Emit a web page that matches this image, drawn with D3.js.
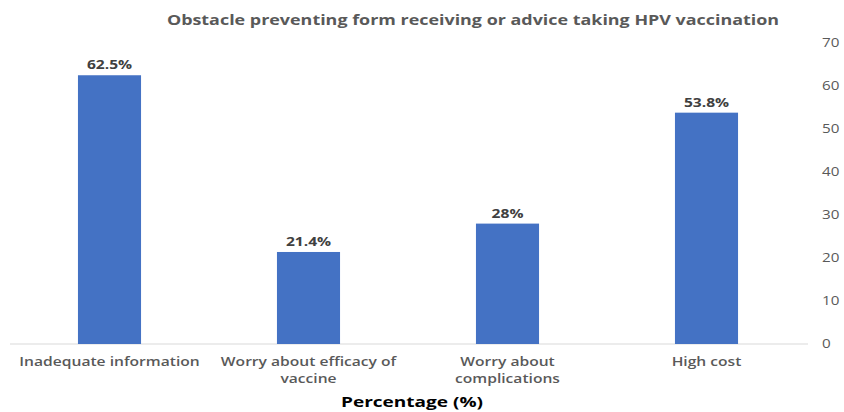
<!DOCTYPE html>
<html><head><meta charset="utf-8">
<script src="https://cdn.jsdelivr.net/npm/d3@7"></script>
<style>body{margin:0;background:#fff}svg{display:block}</style>
</head><body>
<svg id="c" width="844" height="412"></svg>
<script>
const categories = [["Inadequate information"], ["Worry about efficacy of", "vaccine"], ["Worry about", "complications"], ["High cost"]];
const values = [62.5, 21.4, 28, 53.8];
const valueLabels = ["62.5%", "21.4%", "28%", "53.8%"];
const yTicks = [0, 10, 20, 30, 40, 50, 60, 70];
const title = "Obstacle preventing form receiving or advice taking HPV vaccination";
const xTitle = "Percentage (%)";

const svg = d3.select("#c");
const font = "'Open Sans', sans-serif";
const SX = 1.27;
const x = d3.scaleBand().domain(d3.range(values.length)).range([10, 806]).paddingInner(0.683).paddingOuter(0.3415);
const y = d3.scaleLinear().domain([0, 70]).range([344, 43]);

function stext(px, py, sx) {
  return svg.append("g").attr("transform", `translate(${px},${py}) scale(${sx},1)`).append("text");
}

svg.append("line").attr("x1", 10).attr("x2", 808).attr("y1", y(0)).attr("y2", y(0))
  .attr("stroke", "#d9d9d9").attr("stroke-width", 1);

const yAxis = d3.axisRight(y).tickValues(yTicks).tickSize(0).tickPadding(0);
const ya = svg.append("g").attr("transform", "translate(822,0)").call(yAxis);
ya.select(".domain").remove();
ya.selectAll(".tick text").attr("font-family", font).attr("font-size", 12).attr("fill", "#595959")
  .attr("transform", `scale(${SX},1)`);

svg.selectAll("rect.bar").data(values).enter().append("rect").attr("class", "bar")
  .attr("x", (d, i) => x(i)).attr("width", x.bandwidth())
  .attr("y", d => y(d)).attr("height", d => y(0) - y(d)).attr("fill", "#4472c4");

values.forEach((d, i) => {
  stext(x(i) + x.bandwidth() / 2, y(d) - 6, 1.3)
    .attr("text-anchor", "middle").attr("font-family", font).attr("font-weight", "bold")
    .attr("font-size", 12).attr("fill", "#404040").text(valueLabels[i]);
});

categories.forEach((d, i) => {
  const t = stext(x(i) + x.bandwidth() / 2, 366, 1.25)
    .attr("text-anchor", "middle").attr("font-family", font).attr("font-weight", 600)
    .attr("font-size", 12.5).attr("fill", "#595959");
  d.forEach((line, j) => t.append("tspan").attr("x", 0).attr("dy", j === 0 ? 0 : 17).text(line));
});

stext(473, 25, 1.28).attr("text-anchor", "middle")
  .attr("font-family", font).attr("font-weight", "bold").attr("font-size", 14).attr("fill", "#595959").text(title);

stext(412, 407, 1.27).attr("text-anchor", "middle")
  .attr("font-family", font).attr("font-weight", "bold").attr("font-size", 15).attr("fill", "#000").text(xTitle);
</script>
</body></html>
